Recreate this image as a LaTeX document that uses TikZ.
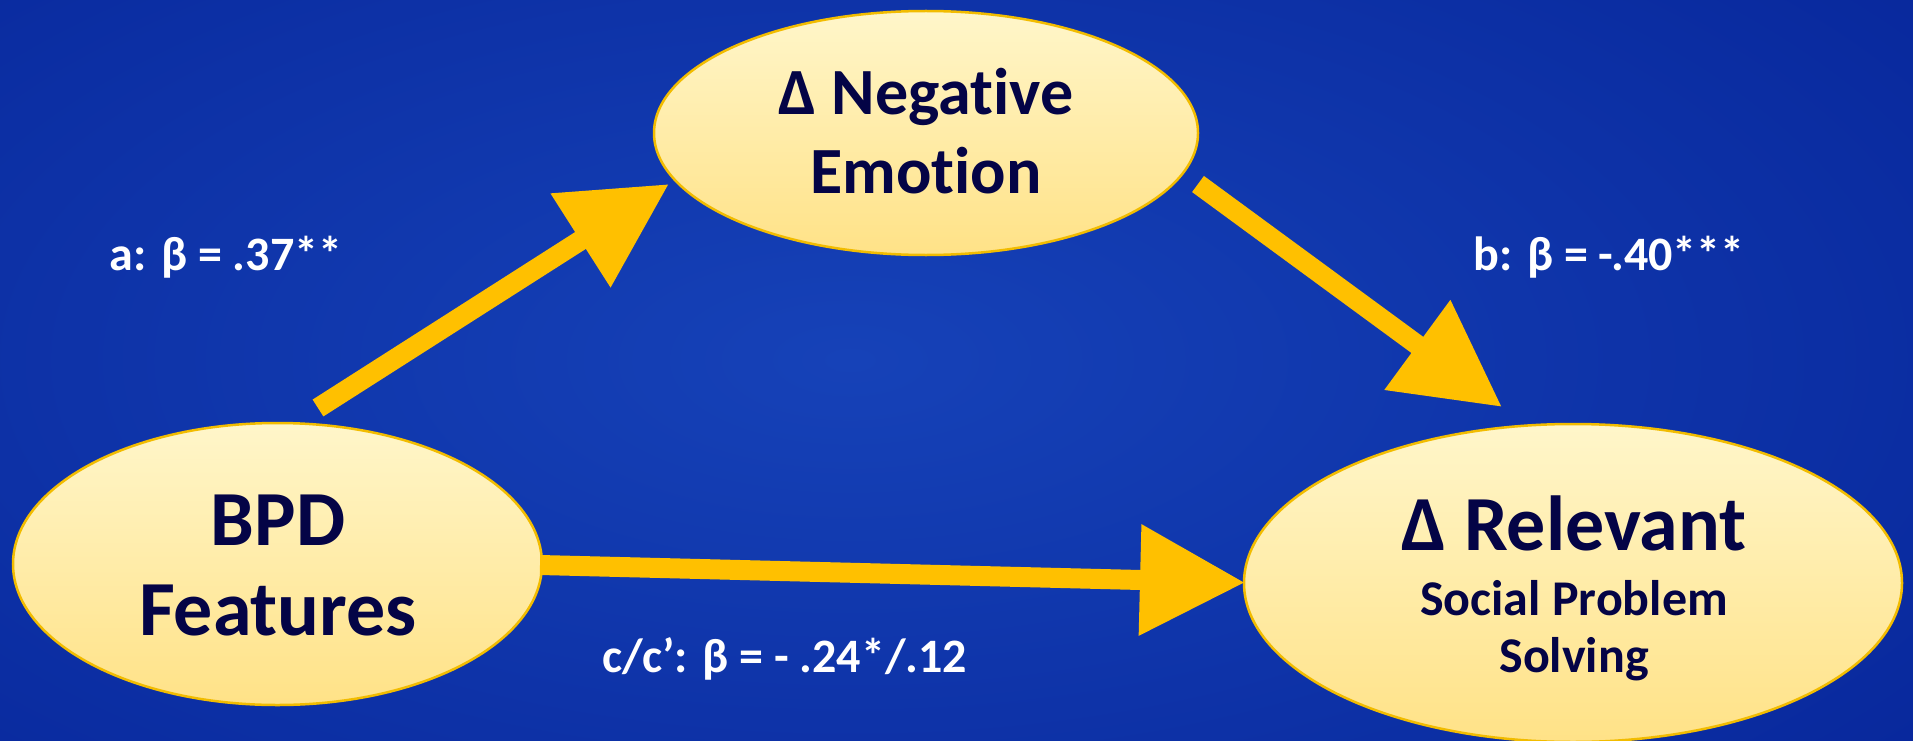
\documentclass[tikz,border=0pt]{standalone}
\usepackage{fontspec}
\setmainfont{Carlito}[Ligatures={NoCommon}]
\usetikzlibrary{arrows.meta,shapes.geometric}
\definecolor{bgIn}{RGB}{22,66,184}
\definecolor{bgOut}{RGB}{5,34,150}
\definecolor{ellTop}{RGB}{255,246,202}
\definecolor{ellBot}{RGB}{255,226,135}
\definecolor{ellLine}{RGB}{242,188,0}
\definecolor{arrowGold}{RGB}{255,192,0}
\definecolor{navyText}{RGB}{4,4,70}
\begin{document}
\begin{tikzpicture}[x=1pt,y=-1pt,
  ellnode/.style={ellipse, draw=ellLine, line width=2.5pt, top color=ellTop, bottom color=ellBot, inner sep=0pt},
  arr/.style={draw=arrowGold, line width=20pt, -{Triangle[length=105pt,width=106pt]}},
  intext/.style={text=navyText, font=\bfseries, inner sep=0pt, anchor=base},
  coef/.style={text=white, font=\bfseries\fontsize{48pt}{48pt}\selectfont, inner sep=0pt, anchor=base}
]
\clip (0,0) rectangle (1913,741);
\shade[inner color=bgIn, outer color=bgOut] (-800,-410) rectangle (2500,1130);

% ellipses
\node[ellnode, minimum width=544pt, minimum height=244pt] (neg) at (926,133) {};
\node[ellnode, minimum width=529pt, minimum height=282pt] (bpd) at (277.5,564) {};
\node[ellnode, minimum width=658pt, minimum height=318pt] (rel) at (1573,583) {};

% texts
\node[intext, font=\bfseries\fontsize{66pt}{66pt}\selectfont] (negA) at (926,115) {Δ Negative};
\node[intext, font=\bfseries\fontsize{66pt}{66pt}\selectfont] (negB) at (926,193) {Emotion};
\node[intext, font=\bfseries\fontsize{78pt}{78pt}\selectfont] (bpdA) at (278,545) {BPD};
\node[intext, font=\bfseries\fontsize{78pt}{78pt}\selectfont] (bpdB) at (278,635) {Features};
\node[intext, font=\bfseries\fontsize{78pt}{78pt}\selectfont] (relA) at (1574,550) {Δ Relevant};
\node[intext, font=\bfseries\fontsize{50pt}{50pt}\selectfont] (relB) at (1574,615) {Social Problem};
\node[intext, font=\bfseries\fontsize{50pt}{50pt}\selectfont] (relC) at (1574,672) {Solving};

% arrow end points
\coordinate (aTail) at (318,408);
\coordinate (aTip) at (669,184);
\coordinate (bTail) at (1198,184);
\coordinate (bTip) at (1502,407);
\coordinate (cTail) at (540,565);
\coordinate (cTip) at (1245,582.6);

\draw[arr] (aTail) -- (aTip);
\draw[arr] (bTail) -- (bTip);
\draw[arr] (cTail) -- (cTip);

% coefficients
\node[coef] (labA) at (226,270) {a: β = .37**};
\node[coef] (labB) at (1609,270) {b: β = -.40***};
\node[coef] (labC) at (785,672) {c/c’: β = - .24*/.12};
\end{tikzpicture}
\end{document}
